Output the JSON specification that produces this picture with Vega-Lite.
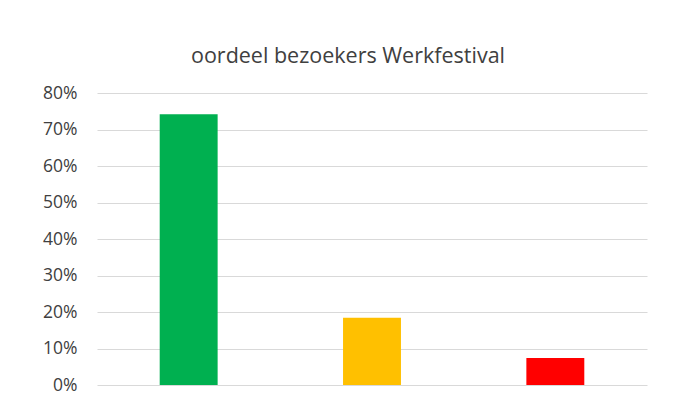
{
  "$schema": "https://vega.github.io/schema/vega-lite/v6.json",
  "autosize": "none",
  "width": 550,
  "height": 292,
  "padding": {"left": 97, "top": 93, "right": 27, "bottom": 27},
  "background": "white",
  "title": {
    "text": "oordeel bezoekers Werkfestival",
    "fontSize": 21.5,
    "font": "Open Sans",
    "fontWeight": "normal",
    "color": "#404040",
    "anchor": "middle",
    "baseline": "alphabetic",
    "offset": 0,
    "dx": -24
  },
  "data": {
    "values": [
      {"oordeel": "positief", "aandeel": 0.742},
      {"oordeel": "neutraal", "aandeel": 0.184},
      {"oordeel": "negatief", "aandeel": 0.074}
    ]
  },
  "mark": {"type": "bar"},
  "encoding": {
    "x": {
      "field": "oordeel",
      "type": "nominal",
      "sort": null,
      "axis": null,
      "scale": {"paddingInner": 0.684, "paddingOuter": 0.342}
    },
    "y": {
      "field": "aandeel",
      "type": "quantitative",
      "scale": {"domain": [0, 0.8], "nice": false},
      "axis": {
        "title": null,
        "values": [0, 0.1, 0.2, 0.3, 0.4, 0.5, 0.6, 0.7, 0.8],
        "format": ".0%",
        "domain": false,
        "ticks": false,
        "labelPadding": 20,
        "labelFontSize": 17.5,
        "labelFont": "Open Sans",
        "labelColor": "#404040",
        "gridColor": "#d9d9d9",
        "gridWidth": 1.2
      }
    },
    "color": {
      "field": "oordeel",
      "type": "nominal",
      "legend": null,
      "scale": {"domain": ["positief", "neutraal", "negatief"], "range": ["#00B050", "#FFC000", "#FF0000"]}
    }
  },
  "config": {"view": {"stroke": null}}
}
